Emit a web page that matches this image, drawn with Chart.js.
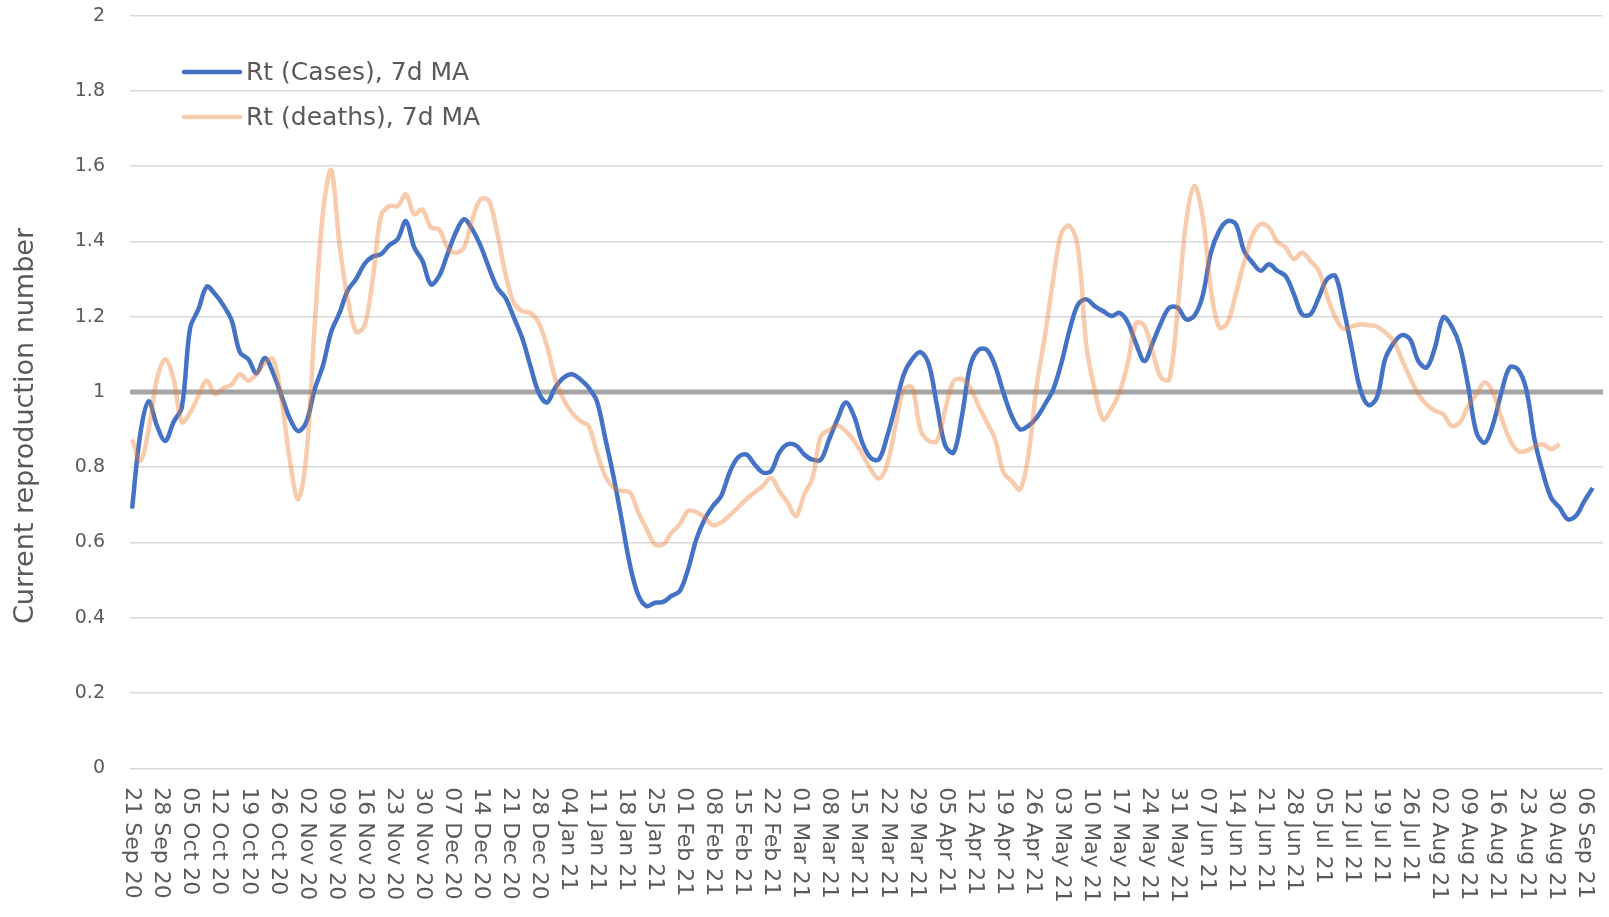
<!DOCTYPE html>
<html>
<head>
<meta charset="utf-8">
<script src="https://cdn.jsdelivr.net/npm/chart.js@4.4.1/dist/chart.umd.min.js"></script>
<style>
  html, body { margin: 0; padding: 0; background: #fff; }
  #wrap { width: 1609px; height: 917px; }
</style>
</head>
<body>
<div id="wrap"><canvas id="rt" width="1609" height="917"></canvas></div>
<script>
// Weekly tick labels (every 7 days from 21 Sep 20)
const weekLabels = [
  "21 Sep 20", "28 Sep 20", "05 Oct 20", "12 Oct 20", "19 Oct 20", "26 Oct 20",
  "02 Nov 20", "09 Nov 20", "16 Nov 20", "23 Nov 20", "30 Nov 20", "07 Dec 20",
  "14 Dec 20", "21 Dec 20", "28 Dec 20", "04 Jan 21", "11 Jan 21", "18 Jan 21",
  "25 Jan 21", "01 Feb 21", "08 Feb 21", "15 Feb 21", "22 Feb 21", "01 Mar 21",
  "08 Mar 21", "15 Mar 21", "22 Mar 21", "29 Mar 21", "05 Apr 21", "12 Apr 21",
  "19 Apr 21", "26 Apr 21", "03 May 21", "10 May 21", "17 May 21", "24 May 21",
  "31 May 21", "07 Jun 21", "14 Jun 21", "21 Jun 21", "28 Jun 21", "05 Jul 21",
  "12 Jul 21", "19 Jul 21", "26 Jul 21", "02 Aug 21", "09 Aug 21", "16 Aug 21",
  "23 Aug 21", "30 Aug 21", "06 Sep 21"
];

// Readings every 2 days, starting 21 Sep 20
const sampleStep = 2;

const casesRt = [
  0.69, 0.89, 0.975, 0.91, 0.87, 0.92, 0.96, 1.17, 1.22, 1.28,
  1.26, 1.23, 1.19, 1.105, 1.087, 1.05, 1.09, 1.05, 0.99, 0.93,
  0.896, 0.92, 1.007, 1.07, 1.16, 1.21, 1.27, 1.30, 1.34, 1.36,
  1.366, 1.39, 1.406, 1.454, 1.384, 1.348, 1.286, 1.308, 1.366, 1.423,
  1.459, 1.432, 1.388, 1.33, 1.277, 1.25, 1.198, 1.144, 1.069, 0.998,
  0.972, 1.012, 1.038, 1.047, 1.034, 1.012, 0.976, 0.879, 0.777, 0.66,
  0.54, 0.46, 0.431, 0.44, 0.442, 0.458, 0.471, 0.529, 0.609, 0.662,
  0.697, 0.724, 0.786, 0.826, 0.834, 0.808, 0.786, 0.79, 0.839, 0.861,
  0.858, 0.834, 0.82, 0.82, 0.874, 0.927, 0.972, 0.936, 0.865, 0.825,
  0.821, 0.883, 0.963, 1.047, 1.087, 1.106, 1.074, 0.963, 0.857, 0.839,
  0.936, 1.069, 1.112, 1.112, 1.069, 0.998, 0.936, 0.901, 0.91, 0.932,
  0.967, 1.007, 1.078, 1.167, 1.233, 1.246, 1.228, 1.215, 1.202, 1.21,
  1.184, 1.127, 1.082, 1.131, 1.184, 1.224, 1.224, 1.193, 1.202, 1.255,
  1.37, 1.428, 1.454, 1.446, 1.375, 1.344, 1.322, 1.339, 1.322, 1.308,
  1.26, 1.206, 1.206, 1.251, 1.30, 1.308, 1.22, 1.113, 1.007, 0.965,
  0.985, 1.087, 1.129, 1.151, 1.14, 1.082, 1.065, 1.118, 1.198, 1.175,
  1.122, 1.016, 0.892, 0.865, 0.914, 0.998, 1.065, 1.06, 1.007, 0.874,
  0.786, 0.719, 0.693, 0.662, 0.671, 0.71, 0.745
];

const deathsRt = [
  0.874, 0.817, 0.90, 1.035, 1.087, 1.034, 0.92, 0.945, 0.99, 1.03,
  0.994, 1.01, 1.02, 1.047, 1.03, 1.047, 1.078, 1.087, 0.98, 0.82,
  0.715, 0.83, 1.175, 1.477, 1.59, 1.39, 1.246, 1.16, 1.175, 1.30,
  1.468, 1.494, 1.494, 1.525, 1.472, 1.485, 1.437, 1.432, 1.384, 1.37,
  1.384, 1.459, 1.512, 1.508, 1.423, 1.313, 1.237, 1.215, 1.21, 1.184,
  1.122, 1.034, 0.98, 0.945, 0.923, 0.91, 0.84, 0.777, 0.746, 0.737,
  0.733, 0.68, 0.636, 0.595, 0.595, 0.626, 0.648, 0.684, 0.681, 0.666,
  0.646, 0.653, 0.672, 0.693, 0.715, 0.733, 0.75, 0.772, 0.737, 0.706,
  0.67, 0.728, 0.772, 0.883, 0.899, 0.911, 0.896, 0.87, 0.834, 0.795,
  0.77, 0.808, 0.91, 1.007, 1.012, 0.9, 0.87, 0.87, 0.954, 1.029,
  1.034, 1.012, 0.963, 0.919, 0.874, 0.786, 0.763, 0.741, 0.83, 1.016,
  1.149, 1.30, 1.423, 1.441, 1.379, 1.122, 1.007, 0.927, 0.954, 1.0,
  1.078, 1.184, 1.175, 1.105, 1.038, 1.034, 1.22, 1.45, 1.547, 1.468,
  1.273, 1.171, 1.184, 1.26, 1.344, 1.415, 1.446, 1.437, 1.399, 1.384,
  1.353, 1.37, 1.348, 1.322, 1.255, 1.198, 1.167, 1.174, 1.18, 1.177,
  1.174, 1.158, 1.136, 1.087, 1.038, 0.994, 0.967, 0.95, 0.941, 0.91,
  0.919, 0.963, 0.994, 1.025, 0.998, 0.932, 0.874, 0.843, 0.843, 0.855,
  0.861, 0.848, 0.861
];

// x axis range in days from 21 Sep 20, and the R = 1 reference
const dayMin = -0.5;
const dayMax = 354.5;
const refRt = [1, 1];

const toPoints = (vals) => vals.map((v, i) => ({ x: i * sampleStep, y: v }));

const FONT = '"DejaVu Sans", "Open Sans", sans-serif';
const TEXT = "#595959";

// Draws rotated date labels, y title and the in-plot legend
const annotPlugin = {
  id: "annot",
  afterDraw(chart) {
    const { ctx, scales } = chart;
    const xs = scales.x;
    ctx.save();
    ctx.fillStyle = TEXT;

    // date labels, rotated clockwise, reading downwards
    ctx.font = "22px " + FONT;
    ctx.textAlign = "left";
    ctx.textBaseline = "middle";
    xs.ticks.forEach((t, i) => {
      const px = xs.getPixelForTick(i);
      ctx.save();
      ctx.translate(px, chart.chartArea.bottom + 19);
      ctx.rotate(Math.PI / 2);
      ctx.fillText(weekLabels[i], 0, 0);
      ctx.restore();
    });

    // y axis title
    ctx.save();
    ctx.font = "27px " + FONT;
    ctx.textAlign = "center";
    ctx.textBaseline = "middle";
    ctx.translate(26, 426);
    ctx.rotate(-Math.PI / 2);
    ctx.fillText("Current reproduction number", 0, 0);
    ctx.restore();

    // legend
    ctx.font = "25px " + FONT;
    ctx.textAlign = "left";
    ctx.textBaseline = "middle";
    const items = chart.data.datasets.filter(d => !d.hideInLegend);
    items.forEach((d, i) => {
      const y = 72 + i * 45;
      ctx.strokeStyle = d.borderColor;
      ctx.lineWidth = d.borderWidth;
      ctx.lineCap = "round";
      ctx.beginPath();
      ctx.moveTo(184, y);
      ctx.lineTo(240, y);
      ctx.stroke();
      ctx.fillText(d.label, 246, y + 1);
    });
    ctx.restore();
  }
};

new Chart(document.getElementById("rt"), {
  type: "line",
  data: {
    datasets: [
      {
        label: "Rt (Cases), 7d MA",
        data: toPoints(casesRt),
        borderColor: "#4472C4",
        borderWidth: 4.5,
        tension: 0.35,
        pointRadius: 0,
        borderJoinStyle: "round",
        order: 1
      },
      {
        label: "Rt (deaths), 7d MA",
        data: toPoints(deathsRt),
        borderColor: "rgba(237,125,49,0.4)",
        borderWidth: 4.5,
        tension: 0.35,
        pointRadius: 0,
        borderJoinStyle: "round",
        order: 0
      },
      {
        label: "R = 1",
        data: [{ x: dayMin, y: refRt[0] }, { x: dayMax, y: refRt[1] }],
        borderColor: "#A5A5A5",
        borderWidth: 5,
        pointRadius: 0,
        hideInLegend: true,
        order: 2
      }
    ]
  },
  options: {
    responsive: false,
    animation: false,
    devicePixelRatio: 1,
    events: [],
    layout: { padding: { top: 15.6, right: 6, left: 0, bottom: 0 } },
    plugins: { legend: { display: false }, tooltip: { enabled: false } },
    scales: {
      x: {
        type: "linear",
        min: dayMin,
        max: dayMax,
        grid: { display: false },
        border: { display: false },
        ticks: { display: false },
        afterBuildTicks: (scale) => {
          scale.ticks = weekLabels.map((_, i) => ({ value: i * 7 }));
        },
        afterFit: (scale) => { scale.height = 148.7; }
      },
      y: {
        min: 0,
        max: 2,
        grid: { color: "#D9D9D9", lineWidth: 1.5, drawTicks: false },
        border: { display: false },
        ticks: {
          stepSize: 0.2,
          padding: 25,
          color: TEXT,
          font: { family: FONT, size: 19 },
          callback: (v) => String(+v.toFixed(1))
        },
        afterFit: (scale) => {
          scale.width = 130;
          scale.paddingTop = 0;
          scale.paddingBottom = 0;
        }
      }
    }
  },
  plugins: [annotPlugin]
});
</script>
</body>
</html>
